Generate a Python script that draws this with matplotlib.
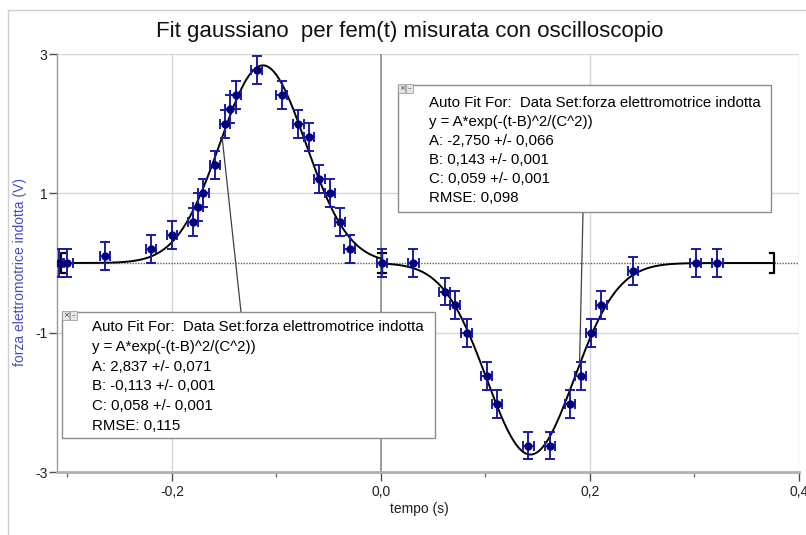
import numpy as np
import matplotlib
matplotlib.use("Agg")
import matplotlib.pyplot as plt
from matplotlib.patches import Rectangle, ConnectionPatch
from matplotlib.ticker import FixedLocator, FuncFormatter

plt.rcParams['font.family'] = ['Liberation Sans', 'DejaVu Sans']

# ---------------- data ----------------
t_data = [-0.308, -0.300, -0.264, -0.220, -0.200, -0.180, -0.175, -0.170,
          -0.159, -0.149, -0.144, -0.139, -0.119, -0.095, -0.079, -0.069,
          -0.059, -0.049, -0.039, -0.030, 0.001, 0.031, 0.061, 0.071,
          0.082, 0.101, 0.111, 0.141, 0.162, 0.181, 0.191, 0.201,
          0.211, 0.241, 0.301, 0.322]
v_data = [0.0, 0.0, 0.10, 0.20, 0.40, 0.59, 0.80, 1.00,
          1.41, 2.00, 2.21, 2.41, 2.77, 2.41, 2.00, 1.81,
          1.21, 1.00, 0.59, 0.20, 0.0, 0.0, -0.41, -0.60,
          -1.01, -1.62, -2.03, -2.62, -2.62, -2.03, -1.62, -1.01,
          -0.60, -0.11, 0.0, 0.0]
t_err = 0.005
v_err = 0.2

# fit 1 (positive gaussian) and fit 2 (negative gaussian)
A1, B1, C1 = 2.837, -0.113, 0.058
A2, B2, C2 = -2.750, 0.143, 0.059
fit1_range = (-0.306, 0.001)
fit2_range = (0.001, 0.3765)

fit1_text = ["Auto Fit For:  Data Set:forza elettromotrice indotta",
             "y = A*exp(-(t-B)^2/(C^2))",
             "A: 2,837 +/- 0,071",
             "B: -0,113 +/- 0,001",
             "C: 0,058 +/- 0,001",
             "RMSE: 0,115"]
fit2_text = ["Auto Fit For:  Data Set:forza elettromotrice indotta",
             "y = A*exp(-(t-B)^2/(C^2))",
             "A: -2,750 +/- 0,066",
             "B: 0,143 +/- 0,001",
             "C: 0,059 +/- 0,001",
             "RMSE: 0,098"]

x_major = [-0.2, 0.0, 0.2, 0.4]
x_minor = [-0.3, -0.1, 0.1, 0.3]
y_major = [-3, -1, 1, 3]

title = "Fit gaussiano  per fem(t) misurata con oscilloscopio"
xlabel = "tempo (s)"
ylabel = "forza elettromotrice indotta (V)"


def gauss(t, A, B, C):
    return A * np.exp(-(t - B) ** 2 / (C ** 2))


# ---------------- figure ----------------
W, H = 806, 535
fig = plt.figure(figsize=(W / 100, H / 100), dpi=100)
fig.patch.set_facecolor('white')

# outer frame
fig.add_artist(Rectangle((8 / W, -0.1), 1.2, 1 - 10 / H + 0.1, transform=fig.transFigure,
                         fill=False, edgecolor='#cfcfcf', lw=1.0))

ax_l, ax_r, ax_t, ax_b = 57, 799, 54, 472
ax = fig.add_axes([ax_l / W, 1 - ax_b / H, (ax_r - ax_l) / W, (ax_b - ax_t) / H])
ax.set_xlim(-0.31, 0.4)
ax.set_ylim(-3, 3)

def px2ax(x, y):
    return ((x - ax_l) / (ax_r - ax_l), (ax_b - y) / (ax_b - ax_t))

# grid
for xv in [-0.2, 0.2, 0.4]:
    ax.axvline(xv, color='#d6d6d6', lw=1.0, zorder=0)
for yv in [-1, 1, 3]:
    ax.axhline(yv, color='#d6d6d6', lw=1.0, zorder=0)
ax.axvline(0.0, color='#8a8a8a', lw=1.2, zorder=1)
ax.axhline(0.0, color='#606060', lw=1.0, ls=(0, (1, 1)), zorder=1)

# spines
for s in ['top', 'right']:
    ax.spines[s].set_visible(False)
ax.spines['left'].set_color('#9a9a9a')
ax.spines['left'].set_linewidth(1.0)
ax.spines['bottom'].set_color('#b0b0b0')
ax.spines['bottom'].set_linewidth(2.0)

ax.xaxis.set_major_locator(FixedLocator(x_major))
ax.xaxis.set_minor_locator(FixedLocator(x_minor))
ax.yaxis.set_major_locator(FixedLocator(y_major))
ax.xaxis.set_major_formatter(FuncFormatter(lambda v, p: f"{v:.1f}".replace('.', ',').replace('-0,0', '0,0')))
ax.yaxis.set_major_formatter(FuncFormatter(lambda v, p: f"{v:.0f}"))
ax.tick_params(axis='x', which='major', direction='out', length=6.5, width=1.0, color='#505050',
               labelsize=10, pad=3, labelcolor='#202020')
ax.tick_params(axis='x', which='minor', direction='out', length=3.5, width=1.0, color='#707070')
ax.tick_params(axis='y', which='major', direction='out', length=6, width=1.0, color='#505050',
               labelsize=10, pad=1, labelcolor='#202020')

ax.set_xlabel(xlabel, fontsize=10, color='#202020', labelpad=3)
ax.xaxis.set_label_coords((419 - ax_l) / (ax_r - ax_l), -0.072)
fig.text(20 / W, 1 - 272 / H, ylabel, rotation=90, ha='center', va='center',
         fontsize=10, color='#4a4ac8')

# fit curves
tt1 = np.linspace(fit1_range[0], fit1_range[1], 300)
tt2 = np.linspace(fit2_range[0], fit2_range[1], 400)
ax.plot(tt1, gauss(tt1, A1, B1, C1), color='black', lw=1.4, zorder=3)
ax.plot(tt2, gauss(tt2, A2, B2, C2), color='black', lw=1.4, zorder=3)

# range brackets
bh = 0.145
bw = 0.004
def bracket(tx, y0, side):
    d = bw if side == 'left' else -bw
    ax.plot([tx + d, tx, tx, tx + d], [y0 - bh, y0 - bh, y0 + bh, y0 + bh],
            color='black', lw=1.6, zorder=4)

bracket(fit1_range[0], gauss(fit1_range[0], A1, B1, C1), 'left')
bracket(fit1_range[1], 0.0, 'right')
bracket(fit2_range[0], 0.0, 'left')
bracket(fit2_range[1], gauss(fit2_range[1], A2, B2, C2), 'right')

# data with error bars
ax.errorbar(t_data, v_data, xerr=t_err, yerr=v_err, fmt='o', ms=5.0,
            mfc='#00007a', mec='#00007a', ecolor='#1a1aa8', elinewidth=1.4,
            capsize=3.8, capthick=1.4, zorder=5)

# fit annotation boxes
def fit_box(x0, y0, x1, y1, tx, ty0, dy, lines):
    a0 = px2ax(x0, y1)
    a1 = px2ax(x1, y0)
    ax.add_patch(Rectangle(a0, a1[0] - a0[0], a1[1] - a0[1], transform=ax.transAxes,
                           facecolor='white', edgecolor='#8c8c8c', lw=1.0, zorder=8,
                           clip_on=False))
    for i, s in enumerate(lines):
        p = px2ax(tx, ty0 + i * dy)
        ax.text(p[0], p[1], s, transform=ax.transAxes, ha='left', va='center',
                fontsize=10.8, color='black', zorder=9)
    # small icons
    for k, sym in enumerate(['×', '–']):
        q0 = px2ax(x0 + k * 8, y0 + 8)
        q1 = px2ax(x0 + k * 8 + 7, y0 - 1)
        ax.add_patch(Rectangle(q0, q1[0] - q0[0], q1[1] - q0[1], transform=ax.transAxes,
                               facecolor='#e4e4e4', edgecolor='#a0a0a0', lw=0.6, zorder=10,
                               clip_on=False))
        c = px2ax(x0 + k * 8 + 3.5, y0 + 3.5)
        ax.text(c[0], c[1], sym, transform=ax.transAxes, ha='center', va='center',
                fontsize=5, color='#333333', zorder=11, family='DejaVu Sans')

fit_box(398, 85, 771, 212, 429, 103, 19, fit2_text)
fit_box(62, 312, 435, 438, 92, 327, 19.8, fit1_text)

# leader lines
t_l1 = -0.152
t_l2 = 0.190
con1 = ConnectionPatch(xyA=(t_l1, gauss(t_l1, A1, B1, C1)), coordsA=ax.transData,
                       xyB=px2ax(241, 312), coordsB=ax.transAxes, color='#404040', lw=0.9, zorder=7)
con2 = ConnectionPatch(xyA=(t_l2, gauss(t_l2, A2, B2, C2)), coordsA=ax.transData,
                       xyB=px2ax(583, 212), coordsB=ax.transAxes, color='#404040', lw=0.9, zorder=7)
ax.add_artist(con1)
ax.add_artist(con2)

fig.text(410 / W, 1 - 31 / H, title, ha='center', va='center', fontsize=16, color='#111111')

fig.savefig('out.png', dpi=100, facecolor='white')
